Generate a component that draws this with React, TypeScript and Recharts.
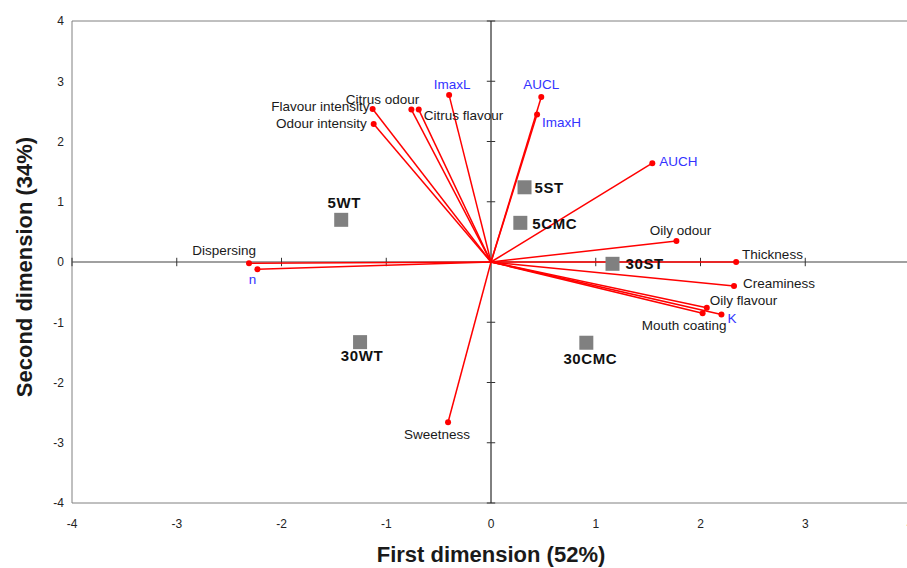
import {
  ScatterChart,
  Scatter,
  XAxis,
  YAxis,
  ReferenceLine,
  ReferenceArea,
  Label,
} from 'recharts';

// attribute loadings (vectors from the origin)
const attributes = [
  'Dispersing', 'n', 'Flavour intensity', 'Odour intensity', 'Citrus odour',
  'Citrus flavour', 'ImaxL', 'AUCL', 'ImaxH', 'AUCH', 'Oily odour',
  'Thickness', 'Creaminess', 'Oily flavour', 'Mouth coating', 'K', 'Sweetness',
];
const attrDim1 = [-2.31, -2.23, -1.13, -1.12, -0.76, -0.69, -0.4, 0.48, 0.44, 1.54, 1.77, 2.34, 2.32, 2.06, 2.02, 2.2, -0.41];
const attrDim2 = [-0.02, -0.12, 2.54, 2.29, 2.53, 2.53, 2.77, 2.74, 2.45, 1.64, 0.35, 0, -0.4, -0.76, -0.85, -0.87, -2.66];

// instrumental parameters are labelled in blue
const instrumental = ['n', 'K', 'ImaxL', 'ImaxH', 'AUCL', 'AUCH'];

// sample scores
const samples = ['5WT', '30WT', '5ST', '5CMC', '30ST', '30CMC'];
const sampleDim1 = [-1.43, -1.25, 0.32, 0.28, 1.16, 0.91];
const sampleDim2 = [0.7, -1.33, 1.24, 0.65, -0.03, -1.34];

const axisTicks = [-4, -3, -2, -1, 0, 1, 2, 3, 4];

// label placement around each marker: [dx, dy, anchor]
const attrLabelPos: Record<string, [number, number, string]> = {
  Dispersing: [7, -13, 'end'],
  n: [-5, 10, 'middle'],
  'Flavour intensity': [-3, -2, 'end'],
  'Odour intensity': [-7, -1, 'end'],
  'Citrus odour': [8, -10, 'end'],
  'Citrus flavour': [5, 6, 'start'],
  ImaxL: [3, -11, 'middle'],
  AUCL: [0, -12, 'middle'],
  ImaxH: [5, 8, 'start'],
  AUCH: [7, -2, 'start'],
  'Oily odour': [4, -10, 'middle'],
  Thickness: [6, -8, 'start'],
  Creaminess: [9, -3, 'start'],
  'Oily flavour': [3, -7, 'start'],
  'Mouth coating': [24, 12, 'end'],
  K: [6, 4, 'start'],
  Sweetness: [-11, 12, 'middle'],
};

const sampleLabelPos: Record<string, [number, number, string]> = {
  '5WT': [3, -17, 'middle'],
  '30WT': [2, 13, 'middle'],
  '5ST': [10, 0, 'start'],
  '5CMC': [12, 1, 'start'],
  '30ST': [13, 0, 'start'],
  '30CMC': [4, 16, 'middle'],
};

const FONT = '"Liberation Sans", Arial, sans-serif';
const RED = '#ff0000';
const BLUE = '#3333ff';

const attrData = attributes.map((name, i) => ({ name, x: attrDim1[i], y: attrDim2[i] }));
const sampleData = samples.map((name, i) => ({ name, x: sampleDim1[i], y: sampleDim2[i] }));

const AttrDot = (props: any) => {
  const { cx, cy, payload } = props;
  const [dx, dy, anchor] = attrLabelPos[payload.name];
  return (
    <g>
      <circle cx={cx} cy={cy} r={3} fill={RED} />
      <text
        x={cx + dx}
        y={cy + dy}
        textAnchor={anchor}
        dominantBaseline="central"
        fontFamily={FONT}
        fontSize={13.5}
        fill={instrumental.includes(payload.name) ? BLUE : '#1a1a1a'}
      >
        {payload.name}
      </text>
    </g>
  );
};

const SampleSquare = (props: any) => {
  const { cx, cy, payload } = props;
  const [dx, dy, anchor] = sampleLabelPos[payload.name];
  return (
    <g>
      <rect x={cx - 7} y={cy - 7} width={14} height={14} fill="#808080" />
      <text
        x={cx + dx}
        y={cy + dy}
        textAnchor={anchor}
        dominantBaseline="central"
        fontFamily={FONT}
        fontSize={15}
        fontWeight="bold"
        letterSpacing={0.6}
        fill="#111"
      >
        {payload.name}
      </text>
    </g>
  );
};

const YTitle = () => (
  <text
    x={24}
    y={267}
    transform="rotate(-90, 24, 267)"
    textAnchor="middle"
    dominantBaseline="central"
    fontFamily={FONT}
    fontSize={22}
    fontWeight="bold"
    fill="#1a1a1a"
  >
    Second dimension (34%)
  </text>
);

export default function App() {
  const tickStyle = { fontSize: 12, fill: '#222', fontFamily: FONT };
  return (
    <div style={{ position: 'absolute', left: 0, top: 0, width: 907, height: 568, overflow: 'hidden', background: '#fff' }}>
      <ScatterChart width={930} height={568} margin={{ top: 21, right: 20, bottom: 0, left: 0 }}>
        <XAxis
          type="number"
          dataKey="x"
          domain={[-4, 4]}
          ticks={axisTicks}
          axisLine={false}
          tickLine={false}
          tick={tickStyle}
          tickMargin={10}
          height={65}
        >
          <Label
            value="First dimension (52%)"
            position="insideBottom"
            offset={6}
            style={{ fontSize: 22, fontWeight: 'bold', fill: '#1a1a1a', fontFamily: FONT }}
          />
        </XAxis>
        <YAxis
          type="number"
          dataKey="y"
          domain={[-4, 4]}
          ticks={axisTicks}
          axisLine={false}
          tickLine={false}
          tick={tickStyle}
          width={72}
        >
          <Label content={<YTitle />} />
        </YAxis>

        <ReferenceArea x1={-4} x2={4} y1={-4} y2={4} fill="none" stroke="#808080" strokeWidth={1} />
        <ReferenceLine y={0} stroke="#808080" strokeWidth={1.5} />
        <ReferenceLine x={0} stroke="#000" strokeWidth={1} />

        {/* tick marks on the zero axes */}
        {axisTicks.filter((t) => t !== 0).map((t) => (
          <ReferenceLine key={`xt${t}`} segment={[{ x: t, y: -0.07 }, { x: t, y: 0.07 }]} stroke="#333" />
        ))}
        {axisTicks.filter((t) => t !== 0).map((t) => (
          <ReferenceLine key={`yt${t}`} segment={[{ x: -0.04, y: t }, { x: 0.04, y: t }]} stroke="#333" />
        ))}

        {/* loading vectors */}
        {attrData.map((d) => (
          <ReferenceLine
            key={`v-${d.name}`}
            segment={[{ x: 0, y: 0 }, { x: d.x, y: d.y }]}
            stroke={RED}
            strokeWidth={1.5}
          />
        ))}

        <Scatter data={attrData} shape={<AttrDot />} isAnimationActive={false} />
        <Scatter data={sampleData} shape={<SampleSquare />} isAnimationActive={false} />
      </ScatterChart>
    </div>
  );
}
